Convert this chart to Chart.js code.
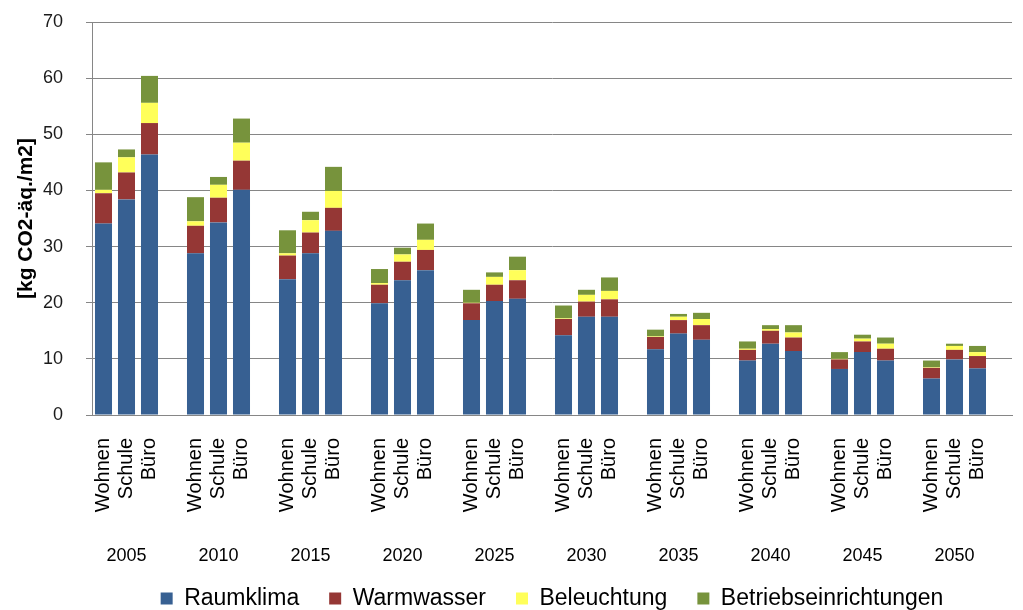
<!DOCTYPE html>
<html>
<head>
<meta charset="utf-8">
<script src="https://cdn.jsdelivr.net/npm/chart.js@4.4.0/dist/chart.umd.min.js"></script>
<style>
  html, body { margin: 0; padding: 0; background: #fff; }
</style>
</head>
<body>
<canvas id="co2Chart" width="1023" height="610"></canvas>
<script>
const years = ['2005', '2010', '2015', '2020', '2025', '2030', '2035', '2040', '2045', '2050'];
const buildings = ['Wohnen', 'Schule', 'Büro'];

// kg CO2-äq. per m2, per year in the order Wohnen, Schule, Büro
const raumklima = [
    34.1, 38.4, 46.4,
    28.8, 34.3, 40.1,
    24.2, 28.8, 32.8,
    19.9, 24.0, 25.8,
    16.9, 20.3, 20.7,
    14.2, 17.5, 17.5,
    11.7, 14.5, 13.4,
    9.7, 12.7, 11.4,
    8.2, 11.2, 9.7,
    6.5, 9.9, 8.3
];
const warmwasser = [
    5.4, 4.8, 5.6,
    4.9, 4.4, 5.2,
    4.2, 3.7, 4.1,
    3.3, 3.3, 3.6,
    3.0, 2.9, 3.3,
    2.9, 2.7, 3.1,
    2.2, 2.4, 2.6,
    1.9, 2.3, 2.4,
    1.7, 1.9, 2.1,
    1.9, 1.7, 2.2
];
const beleuchtung = [
    0.6, 2.7, 3.6,
    0.8, 2.3, 3.2,
    0.4, 2.2, 3.0,
    0.3, 1.3, 1.8,
    0.1, 1.4, 1.8,
    0.1, 1.2, 1.5,
    0.1, 0.6, 1.1,
    0.2, 0.3, 0.9,
    0.1, 0.5, 0.9,
    0.1, 0.7, 0.7
];
const betriebseinrichtungen = [
    4.9, 1.4, 4.8,
    4.3, 1.4, 4.3,
    4.1, 1.5, 4.3,
    2.5, 1.2, 2.9,
    2.3, 0.8, 2.4,
    2.3, 0.9, 2.4,
    1.2, 0.5, 1.1,
    1.3, 0.7, 1.3,
    1.2, 0.7, 1.1,
    1.2, 0.4, 1.1
];

const fontFamily = '"Liberation Sans", Arial, sans-serif';

// three bars per year, then one empty slot as spacer
const labels = [];
years.forEach(() => labels.push(...buildings, ''));

function toSlots(values) {
    const out = [];
    years.forEach((y, i) => {
        out.push(values[i * 3], values[i * 3 + 1], values[i * 3 + 2], null);
    });
    return out;
}

function series(label, values, color) {
    return {
        label: label,
        data: toSlots(values),
        backgroundColor: color,
        borderWidth: 0,
        barPercentage: 0.74,
        categoryPercentage: 1.0
    };
}

// year captions under each group of three bars
const yearLabels = {
    id: 'yearLabels',
    afterDraw(chart) {
        const xScale = chart.scales.x;
        const ctx = chart.ctx;
        ctx.save();
        ctx.font = '18px ' + fontFamily;
        ctx.fillStyle = '#000';
        ctx.textAlign = 'center';
        ctx.textBaseline = 'middle';
        years.forEach((y, i) => {
            ctx.fillText(y, xScale.getPixelForValue(i * 4 + 1), xScale.top + 141);
        });
        ctx.restore();
    }
};

const ctx = document.getElementById('co2Chart').getContext('2d');
new Chart(ctx, {
    type: 'bar',
    data: {
        labels: labels,
        datasets: [
            series('Raumklima', raumklima, '#376092'),
            series('Warmwasser', warmwasser, '#953735'),
            series('Beleuchtung', beleuchtung, '#FFFF5A'),
            series('Betriebseinrichtungen', betriebseinrichtungen, '#77933C')
        ]
    },
    options: {
        responsive: false,
        animation: false,
        devicePixelRatio: 1,
        layout: {
            padding: { top: 22, right: 11, left: 0, bottom: -10 }
        },
        scales: {
            x: {
                stacked: true,
                grid: { display: false, drawTicks: false },
                border: { display: true, color: '#868686' },
                ticks: {
                    autoSkip: false,
                    minRotation: 90,
                    maxRotation: 90,
                    padding: 23,
                    color: '#000',
                    font: { family: fontFamily, size: 20 }
                },
                afterFit(scale) {
                    scale.height = 142;
                    scale.paddingLeft = 0;
                    scale.paddingRight = 0;
                }
            },
            y: {
                stacked: true,
                min: 0,
                max: 70,
                ticks: {
                    stepSize: 10,
                    padding: 23,
                    color: '#1a1a1a',
                    font: { family: fontFamily, size: 18 }
                },
                grid: { color: '#868686', tickLength: 6 },
                border: { color: '#868686' },
                title: {
                    display: true,
                    text: '[kg CO2-äq./m2]',
                    color: '#000',
                    font: { family: fontFamily, size: 21, weight: 'bold' },
                    padding: { top: 14, bottom: 0 }
                },
                afterFit(scale) {
                    scale.width = 92;
                    scale.paddingTop = 0;
                    scale.paddingBottom = 0;
                }
            }
        },
        plugins: {
            legend: {
                position: 'bottom',
                fullSize: false,
                labels: {
                    boxWidth: 12,
                    boxHeight: 12,
                    padding: 30,
                    color: '#000',
                    font: { family: fontFamily, size: 23 }
                }
            },
            tooltip: { enabled: false }
        }
    },
    plugins: [yearLabels]
});
</script>
</body>
</html>
